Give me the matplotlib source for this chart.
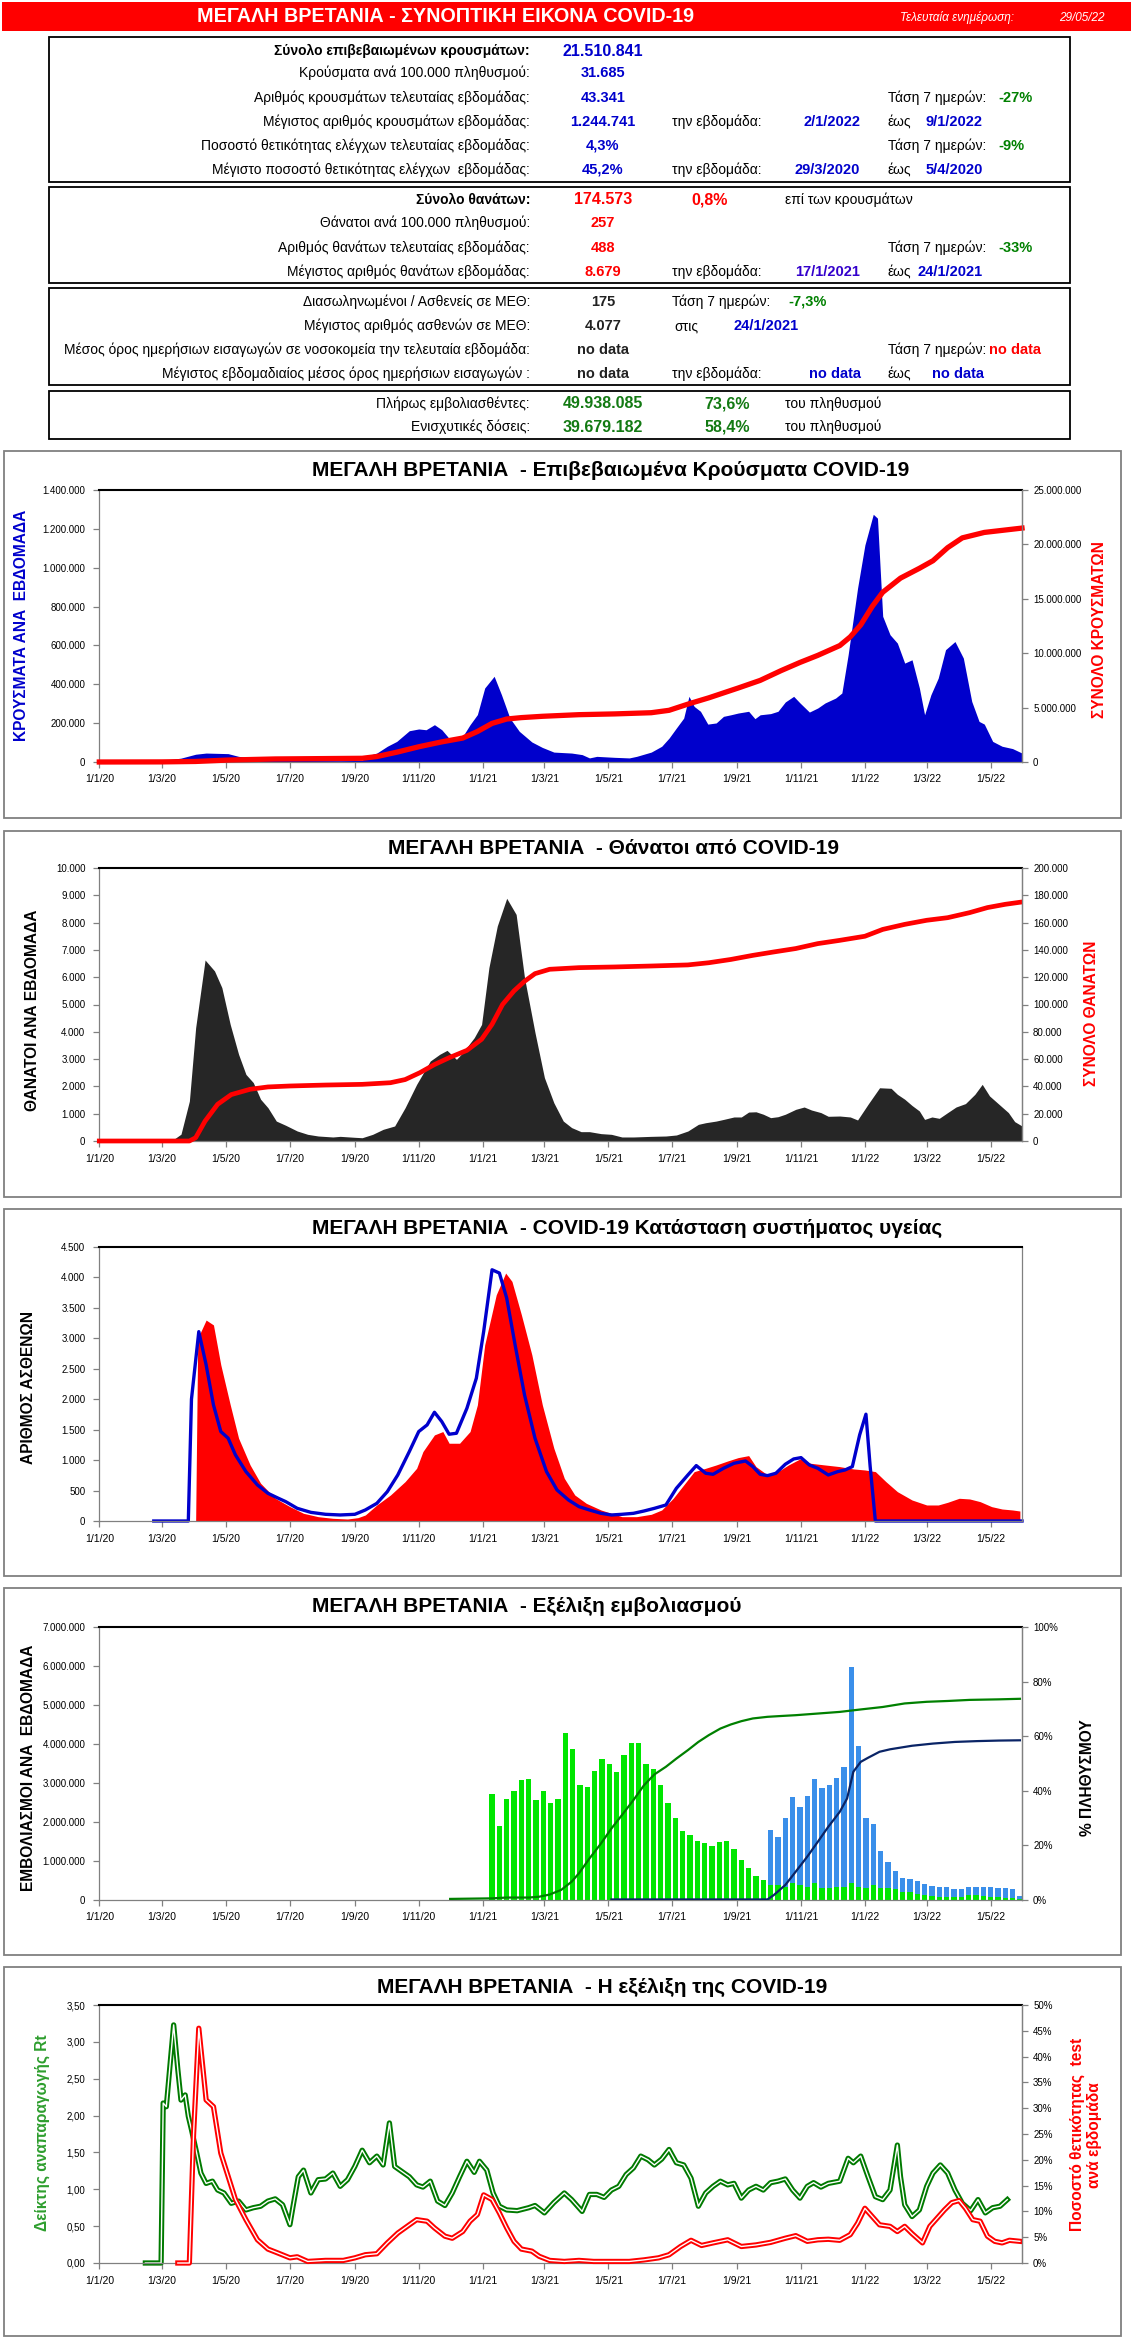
import numpy as np
import pandas as pd
import matplotlib
matplotlib.use('Agg')
import matplotlib.pyplot as plt
from matplotlib import font_manager
from matplotlib.patches import Rectangle
from matplotlib.lines import Line2D
import matplotlib.patheffects as pe
from matplotlib.ticker import FuncFormatter, MultipleLocator

_names = {f.name for f in font_manager.fontManager.ttflist}
REG = 'Liberation Sans' if 'Liberation Sans' in _names else 'DejaVu Sans'
HAS_NAR = 'Liberation Sans Narrow' in _names
NAR = 'Liberation Sans Narrow' if HAS_NAR else REG
plt.rcParams['font.family'] = [REG, 'DejaVu Sans']

# ---------------- data (days counted from 1/1/2020) ----------------
tick_dates = ['2020-01-01', '2020-03-01', '2020-05-01', '2020-07-01', '2020-09-01', '2020-11-01',
              '2021-01-01', '2021-03-01', '2021-05-01', '2021-07-01', '2021-09-01', '2021-11-01',
              '2022-01-01', '2022-03-01', '2022-05-01']
tick_labels = ['1/1/20', '1/3/20', '1/5/20', '1/7/20', '1/9/20', '1/11/20', '1/1/21', '1/3/21',
               '1/5/21', '1/7/21', '1/9/21', '1/11/21', '1/1/22', '1/3/22', '1/5/22']

case_days = [0, 59, 70, 78, 92, 102, 123, 133, 147, 168, 182, 230, 251, 254, 265, 275, 284, 296, 305, 312,
             320, 327, 335, 341, 347, 354, 361, 368, 377, 384, 392, 401, 413, 423, 434, 451, 461, 468, 475, 492,
             506, 513, 527, 537, 544, 551, 558, 563, 568, 574, 581, 589, 596, 603, 610, 620, 626, 631, 641, 648,
             655, 663, 669, 678, 686, 693, 703, 709, 715, 724, 731, 739, 743, 748, 755, 762, 769, 776, 783, 788,
             794, 801, 808, 817, 825, 833, 840, 845, 853, 862, 872, 881]
weekly_cases = [8000, 10000, 14000, 20000, 40000, 46000, 43000, 29000, 20000, 12000, 8000, 7000, 8000, 29000,
                46000, 81000, 106000, 161000, 170000, 166000, 192000, 166000, 115000, 115000, 132000, 192000,
                244000, 381000, 441000, 346000, 226000, 158000, 103000, 75000, 51000, 46000, 38000, 21000, 29000,
                24000, 21000, 29000, 51000, 81000, 123000, 175000, 226000, 338000, 286000, 261000, 195000, 201000,
                235000, 243000, 252000, 261000, 223000, 243000, 249000, 261000, 309000, 338000, 304000, 257000,
                278000, 304000, 329000, 355000, 552000, 895000, 1117000, 1275000, 1255000, 750000, 655000, 612000,
                509000, 526000, 381000, 243000, 346000, 432000, 578000, 620000, 535000, 312000, 209000, 195000,
                106000, 81000, 69000, 46000]
cum_case_days = [0, 60, 92, 123, 168, 182, 251, 265, 284, 305, 327, 347, 361, 375, 389, 403, 423, 458, 492, 527,
                 544, 563, 582, 610, 631, 651, 669, 686, 707, 717, 727, 738, 748, 765, 783, 796, 810, 824, 845, 881]
cum_cases = [0, 10000, 50000, 180000, 280000, 290000, 340000, 500000, 900000, 1400000, 1850000, 2200000, 2800000,
             3550000, 3950000, 4080000, 4200000, 4350000, 4420000, 4530000, 4750000, 5350000, 5900000, 6800000,
             7500000, 8400000, 9150000, 9800000, 10700000, 11500000, 12600000, 14300000, 15600000, 16900000,
             17800000, 18500000, 19700000, 20600000, 21100000, 21500000]

death_days = [0, 71, 78, 86, 92, 101, 110, 117, 125, 133, 140, 147, 154, 161, 169, 178, 189, 199, 209, 223,
              230, 244, 251, 261, 271, 282, 292, 303, 316, 325, 332, 341, 347, 358, 365, 372, 380, 389, 398, 406,
              416, 425, 434, 443, 451, 460, 468, 479, 489, 499, 510, 527, 541, 551, 562, 572, 579, 589, 596, 606,
              613, 620, 627, 634, 641, 648, 655, 665, 673, 680, 689, 696, 707, 717, 724, 734, 745, 756, 762, 769,
              776, 783, 788, 795, 802, 810, 818, 827, 836, 843, 850, 859, 868, 874, 881]
weekly_deaths = [60, 60, 250, 1460, 4150, 6630, 6230, 5620, 4270, 3175, 2440, 2140, 1530, 1220, 730, 575, 366,
                 244, 183, 147, 170, 135, 120, 244, 427, 550, 1220, 2075, 2930, 3175, 3320, 2990, 3235, 3785, 4270,
                 6350, 7875, 8890, 8300, 5980, 3970, 2320, 1400, 730, 490, 342, 342, 270, 244, 147, 147, 170, 183,
                 220, 366, 610, 670, 730, 790, 880, 880, 1060, 1070, 980, 855, 890, 980, 1160, 1245, 1135, 1040,
                 905, 915, 880, 770, 1345, 1950, 1930, 1710, 1530, 1300, 1100, 790, 880, 830, 1040, 1245, 1370,
                 1710, 2075, 1650, 1345, 1040, 710, 550]
cum_death_days = [0, 86, 92, 101, 113, 126, 144, 161, 182, 216, 251, 278, 292, 306, 320, 334, 351, 365, 375, 385,
                  396, 406, 416, 430, 458, 492, 527, 562, 582, 603, 624, 644, 665, 686, 707, 731, 748, 769, 790,
                  810, 831, 848, 865, 879]
cum_deaths = [0, 0, 2400, 14600, 26900, 34000, 37900, 39600, 40300, 41000, 41500, 42700, 45000, 50000, 56000,
              61000, 66400, 74500, 85500, 100000, 110000, 117000, 122600, 125800, 127000, 127500, 128200, 129000,
              130600, 133000, 136000, 138500, 141000, 144600, 147000, 150000, 155000, 158700, 161700, 163600,
              167300, 171000, 173400, 174900]

icu_days = [92, 94, 102, 109, 116, 125, 133, 144, 154, 168, 182, 195, 209, 223, 237, 247, 254, 265, 278, 292,
            303, 309, 320, 328, 334, 344, 354, 361, 368, 379, 388, 394, 403, 413, 423, 434, 444, 454, 465, 479,
            489, 499, 513, 527, 537, 548, 558, 568, 579, 589, 600, 610, 620, 627, 638, 648, 658, 669, 679, 693,
            707, 720, 731, 741, 751, 762, 776, 790, 801, 810, 821, 831, 841, 852, 862, 872, 879]
icu_patients = [0, 3000, 3300, 3220, 2565, 1910, 1360, 920, 620, 373, 236, 126, 71, 44, 33, 55, 99, 263, 427,
                647, 866, 1140, 1414, 1469, 1277, 1277, 1469, 1907, 2893, 3715, 4072, 3935, 3387, 2729, 1907, 1195,
                701, 427, 290, 181, 126, 71, 71, 110, 181, 373, 592, 811, 866, 920, 986, 1041, 1074, 893, 756, 811,
                920, 1019, 948, 920, 893, 855, 838, 811, 647, 482, 345, 263, 263, 307, 373, 362, 318, 236, 197,
                181, 164]
adm_days = [52, 85, 88, 95, 102, 109, 116, 123, 130, 140, 151, 161, 171, 178, 189, 202, 216, 230, 244, 254,
            265, 275, 285, 296, 305, 313, 320, 327, 334, 341, 351, 360, 367, 375, 382, 389, 397, 406, 416, 427,
            437, 448, 458, 468, 479, 489, 499, 510, 520, 530, 541, 551, 562, 570, 579, 586, 596, 606, 617, 624,
            631, 638, 646, 655, 663, 670, 678, 686, 696, 705, 712, 719, 726, 732, 736, 741, 881]
admissions = [0, 0, 2000, 3110, 2565, 1907, 1469, 1360, 1085, 811, 592, 455, 373, 318, 208, 142, 110, 99, 110,
              181, 290, 482, 756, 1140, 1469, 1578, 1786, 1633, 1425, 1441, 1852, 2345, 3112, 4126, 4072, 3660,
              2893, 2071, 1360, 811, 510, 345, 236, 181, 126, 99, 110, 126, 164, 208, 263, 537, 756, 910, 784,
              767, 866, 948, 986, 893, 767, 745, 784, 932, 1019, 1041, 920, 866, 756, 811, 838, 893, 1414, 1754,
              900, 0, 0]

first_dose_start = '2021-01-10'
weekly_first_doses = [2730000, 1900000, 2590000, 2790000, 3070000, 3100000, 2560000, 2790000, 2480000, 2590000,
                      4270000, 3880000, 2950000, 2890000, 3300000, 3610000, 3500000, 3270000, 3710000, 4020000,
                      4020000, 3500000, 3350000, 2960000, 2500000, 2090000, 1770000, 1660000, 1510000, 1470000,
                      1390000, 1480000, 1510000, 1310000, 1020000, 810000, 610000, 510000, 380000, 380000,
                      340000, 440000, 380000, 340000, 440000, 300000, 300000, 340000, 340000, 440000,
                      340000, 300000, 380000, 320000, 300000, 280000, 210000, 210000, 145000, 128000,
                      110000, 85000, 85000, 85000, 85000, 128000, 128000, 110000, 85000, 85000,
                      60000, 43000, 17000]
booster_start = '2021-10-03'
weekly_boosters = [1410000, 1240000, 1750000, 2200000, 2010000, 2320000, 2660000, 2580000, 2650000, 2790000,
                   3070000, 5540000, 3600000, 1790000, 1560000, 940000, 680000, 470000, 360000, 340000,
                   355000, 282000, 260000, 255000, 255000, 195000, 195000, 212000, 212000, 230000,
                   255000, 235000, 240000, 227000, 93000]
full_vax_days = [335, 375, 389, 410, 420, 430, 441, 451, 458, 468, 479, 489, 499, 510, 520, 530, 541, 551, 562,
                 572, 582, 593, 603, 613, 624, 638, 651, 665, 686, 707, 727, 748, 769, 790, 810, 831, 859, 879]
full_vax_pct = [0.4, 0.6, 0.9, 0.9, 1.2, 2.0, 3.7, 6.7, 9.8, 15.2, 20.7, 26.2, 31.1, 36.6, 42.0, 46.0, 48.8,
                51.8, 54.9, 57.9, 60.4, 62.8, 64.3, 65.5, 66.5, 67.1, 67.4, 67.7, 68.3, 68.9, 69.8, 70.7, 72.0,
                72.6, 72.9, 73.3, 73.5, 73.7]
booster_pct_days = [489, 638, 644, 655, 665, 676, 686, 696, 707, 714, 720, 727, 734, 745, 755, 776, 796, 817,
                    838, 859, 879]
booster_pct = [0.2, 0.2, 1.8, 5.5, 10.4, 15.9, 21.3, 26.8, 32.3, 37.2, 47.0, 50.6, 52.1, 54.3, 55.2, 56.5,
               57.3, 57.9, 58.2, 58.4, 58.5]

rt_days = [44, 59, 61, 64, 68, 71, 75, 78, 82, 85, 88, 93, 97, 102, 108, 113, 119, 126, 133, 140, 147, 154, 161,
           168, 175, 182, 185, 190, 195, 202, 209, 216, 223, 230, 237, 244, 251, 258, 265, 271, 277, 282, 289, 296,
           303, 309, 316, 323, 330, 337, 344, 351, 358, 363, 370, 376, 382, 389, 399, 410, 416, 425, 434, 444, 451,
           461, 468, 475, 482, 489, 496, 503, 510, 517, 524, 530, 537, 544, 551, 558, 565, 572, 579, 586, 593, 600,
           606, 613, 620, 627, 634, 641, 648, 655, 662, 669, 676, 682, 689, 696, 707, 715, 720, 727, 734, 741, 748,
           755, 762, 765, 769, 776, 783, 790, 796, 803, 810, 817, 824, 832, 839, 846, 853, 860, 867]
rt_values = [0, 0, 2.17, 2.12, 2.76, 3.23, 2.62, 2.21, 2.28, 1.99, 1.81, 1.49, 1.22, 1.08, 1.11, 0.99, 0.95, 0.81,
             0.84, 0.72, 0.75, 0.77, 0.84, 0.87, 0.79, 0.52, 0.77, 1.17, 1.26, 0.95, 1.13, 1.14, 1.22, 1.04, 1.13,
             1.31, 1.53, 1.36, 1.45, 1.33, 1.90, 1.31, 1.24, 1.17, 1.06, 1.03, 1.11, 0.84, 0.78, 0.95, 1.17, 1.38,
             1.23, 1.38, 1.26, 0.95, 0.77, 0.72, 0.71, 0.75, 0.78, 0.68, 0.82, 0.95, 0.86, 0.70, 0.93, 0.93, 0.89,
             0.99, 1.04, 1.20, 1.29, 1.45, 1.40, 1.33, 1.41, 1.54, 1.36, 1.33, 1.15, 0.77, 0.95, 1.04, 1.11, 1.06,
             1.08, 0.88, 0.99, 1.04, 0.99, 1.09, 1.11, 1.14, 0.99, 0.88, 1.04, 1.09, 1.03, 1.08, 1.11, 1.42, 1.36,
             1.45, 1.17, 0.90, 0.86, 0.99, 1.60, 1.17, 0.79, 0.63, 0.72, 1.04, 1.22, 1.33, 1.22, 0.99, 0.81, 0.71,
             0.86, 0.68, 0.75, 0.77, 0.86]
pos_days = [75, 86, 90, 95, 102, 109, 116, 123, 130, 140, 151, 161, 171, 182, 189, 199, 216, 233, 244, 254, 265,
            275, 285, 296, 303, 313, 320, 330, 337, 347, 354, 361, 367, 375, 382, 389, 396, 403, 413, 420, 430, 444,
            458, 472, 492, 506, 520, 534, 544, 555, 565, 575, 586, 600, 613, 627, 641, 655, 665, 676, 686, 696, 707,
            717, 724, 731, 738, 745, 755, 762, 769, 776, 786, 793, 800, 807, 814, 821, 827, 834, 841, 848, 855, 862,
            869, 879]
pos_values = [0, 0, 25, 45.5, 31.6, 30.3, 21.3, 16.8, 12.3, 8.4, 4.5, 2.7, 1.9, 1.0, 1.2, 0.3, 0.5, 0.5, 1.0, 1.6,
              1.8, 3.9, 5.8, 7.4, 8.4, 8.1, 6.8, 5.2, 4.8, 6.1, 8.1, 9.4, 13.2, 12.3, 9.7, 6.8, 4.2, 2.7, 2.3, 1.3,
              0.5, 0.3, 0.5, 0.3, 0.3, 0.3, 0.6, 1.0, 1.6, 3.2, 4.4, 3.4, 3.9, 4.5, 3.2, 3.5, 4.0, 4.8, 5.3, 4.2,
              4.5, 4.6, 4.4, 5.5, 7.7, 10.6, 9.0, 7.4, 7.1, 6.1, 7.1, 5.7, 3.9, 7.1, 8.7, 10.3, 11.7, 12.1, 10.6,
              8.4, 8.1, 5.2, 4.2, 3.9, 4.4, 4.2]

# header table texts
header_title = 'ΜΕΓΑΛΗ ΒΡΕΤΑΝΙΑ - ΣΥΝΟΠΤΙΚΗ ΕΙΚΟΝΑ COVID-19'
update_label, update_date = 'Τελευταία ενημέρωση:', '29/05/22'
cases_labels = ['Σύνολο επιβεβαιωμένων κρουσμάτων:', 'Κρούσματα ανά 100.000 πληθυσμού:',
                'Αριθμός κρουσμάτων τελευταίας εβδομάδας:', 'Μέγιστος αριθμός κρουσμάτων εβδομάδας:',
                'Ποσοστό θετικότητας ελέγχων τελευταίας εβδομάδας:', 'Μέγιστο ποσοστό θετικότητας ελέγχων  εβδομάδας:']
cases_values = ['21.510.841', '31.685', '43.341', '1.244.741', '4,3%', '45,2%']
deaths_labels = ['Σύνολο θανάτων:', 'Θάνατοι ανά 100.000 πληθυσμού:', 'Αριθμός θανάτων τελευταίας εβδομάδας:',
                 'Μέγιστος αριθμός θανάτων εβδομάδας:']
deaths_values = ['174.573', '257', '488', '8.679']
icu_labels = ['Διασωληνωμένοι / Ασθενείς σε ΜΕΘ:', 'Μέγιστος αριθμός ασθενών σε ΜΕΘ:',
              'Μέσος όρος ημερήσιων εισαγωγών σε νοσοκομεία την τελευταία εβδομάδα:',
              'Μέγιστος εβδομαδιαίος μέσος όρος ημερήσιων εισαγωγών :']
icu_values = ['175', '4.077', 'no data', 'no data']
vax_labels = ['Πλήρως εμβολιασθέντες:', 'Ενισχυτικές δόσεις:']
vax_values = ['49.938.085', '39.679.182']
vax_percent = ['73,6%', '58,4%']

# ---------------- figure ----------------
W, H = 1133, 2345
fig = plt.figure(figsize=(W / 100, H / 100), dpi=100)
fig.patch.set_facecolor('white')
ov = fig.add_axes([0, 0, 1, 1])
ov.set_xlim(0, W)
ov.set_ylim(H, 0)
ov.axis('off')

START = pd.Timestamp('2020-01-01')
XMIN, XMAX = START, START + pd.Timedelta(days=881)
TICKS = pd.to_datetime(tick_dates)


def to_dates(days):
    return START + pd.to_timedelta(np.asarray(days), unit='D')


def rect(l, t, r, b):
    return [l / W, 1 - b / H, (r - l) / W, (b - t) / H]


GRAY = '#808080'
YT = 8.3 if HAS_NAR else 7.0
XT = 9.0 if HAS_NAR else 7.5
BLUE = '#0000CC'
RED = '#FF0000'
DGREEN = '#008000'


def thousands(v, p):
    return f"{int(round(v)):,}".replace(',', '.')


def style(ax, fmt, ymax, step):
    ax.set_xlim(XMIN, XMAX)
    ax.set_ylim(0, ymax)
    ax.yaxis.set_major_locator(MultipleLocator(step))
    ax.yaxis.set_major_formatter(FuncFormatter(fmt))
    ax.set_xticks(TICKS)
    ax.set_xticklabels(tick_labels)
    for s in ['left', 'right', 'bottom']:
        ax.spines[s].set_color(GRAY)
        ax.spines[s].set_linewidth(0.9)
    ax.spines['top'].set_color('black')
    ax.spines['top'].set_linewidth(1.5)
    ax.tick_params(axis='both', colors=GRAY, length=4, width=0.9, labelcolor='black')
    ax.tick_params(axis='x', labelsize=XT, pad=5, labelfontfamily=NAR)
    ax.tick_params(axis='y', labelsize=YT, pad=6, labelfontfamily=NAR)


def style_right(ax2, fmt, ymax, step):
    ax2.set_xlim(XMIN, XMAX)
    ax2.set_ylim(0, ymax)
    ax2.yaxis.set_major_locator(MultipleLocator(step))
    ax2.yaxis.set_major_formatter(FuncFormatter(fmt))
    for s in ['left', 'top', 'bottom']:
        ax2.spines[s].set_visible(False)
    ax2.spines['right'].set_color(GRAY)
    ax2.spines['right'].set_linewidth(0.9)
    ax2.tick_params(axis='y', colors=GRAY, length=4, width=0.9, labelcolor='black', labelsize=YT, pad=4,
                    labelfontfamily=NAR)


def frame(t, b):
    ov.add_patch(Rectangle((4, t), 1117, b - t, fill=False, ec=GRAY, lw=1.3))


def title(x, y, s):
    ov.text(x, y, s, ha='left', va='center', fontsize=15, weight='bold', family=REG)


def vlabel(x, y, s, color, size=11.5, rot=90):
    ov.text(x, y, s, ha='center', va='center', rotation=rot, fontsize=size, weight='bold', color=color,
            family=REG)


# ---------------- header ----------------
ov.add_patch(Rectangle((2, 2), 1129, 29, color=RED, lw=0))
ov.text(446, 17, header_title, ha='center', va='center', color='white', weight='bold',
        fontsize=16.5 if HAS_NAR else 14.2, family=NAR)
ov.text(900, 18, update_label, ha='left', va='center', color='white', style='italic',
        fontsize=10 if HAS_NAR else 8.5, family=NAR)
ov.text(1059, 18, update_date, ha='left', va='center', color='white', style='italic',
        fontsize=10 if HAS_NAR else 8.5, family=NAR)

for (t, b) in [(37, 182), (187, 283), (288, 385), (391, 439)]:
    ov.add_patch(Rectangle((49, t), 1021, b - t, fill=False, ec='black', lw=1.3))

LFS = 10
VFS_BIG = 14 if HAS_NAR else 11.5
VFS = 12.5 if HAS_NAR else 10.5


def lab(y, s, bold=False):
    ov.text(530, y, s, ha='right', va='center', fontsize=LFS, weight='bold' if bold else 'normal', family=REG)


def val(x, y, s, color, size=VFS, ha='center'):
    ov.text(x, y, s, ha=ha, va='center', fontsize=size, weight='bold', color=color, family=NAR)


def txt(x, y, s, ha='left'):
    ov.text(x, y, s, ha=ha, va='center', fontsize=LFS, family=REG)


rows1 = [51, 73, 98, 122, 146, 170]
for i, (y, l, v) in enumerate(zip(rows1, cases_labels, cases_values)):
    lab(y, l, bold=(i == 0))
    val(603, y, v, BLUE, VFS_BIG if i == 0 else VFS)
txt(888, rows1[2], 'Τάση 7 ημερών:')
val(998, rows1[2], '-27%', DGREEN, ha='left')
txt(672, rows1[3], 'την εβδομάδα:')
val(860, rows1[3], '2/1/2022', BLUE, ha='right')
txt(888, rows1[3], 'έως')
val(983, rows1[3], '9/1/2022', BLUE, ha='right')
txt(888, rows1[4], 'Τάση 7 ημερών:')
val(998, rows1[4], '-9%', DGREEN, ha='left')
txt(672, rows1[5], 'την εβδομάδα:')
val(860, rows1[5], '29/3/2020', BLUE, ha='right')
txt(888, rows1[5], 'έως')
val(983, rows1[5], '5/4/2020', BLUE, ha='right')

rows2 = [200, 223, 248, 272]
for i, (y, l, v) in enumerate(zip(rows2, deaths_labels, deaths_values)):
    lab(y, l, bold=(i == 0))
    val(603, y, v, RED, VFS_BIG if i == 0 else VFS)
val(710, rows2[0], '0,8%', RED, VFS_BIG)
txt(785, rows2[0], 'επί των κρουσμάτων')
txt(888, rows2[2], 'Τάση 7 ημερών:')
val(998, rows2[2], '-33%', DGREEN, ha='left')
txt(672, rows2[3], 'την εβδομάδα:')
val(860, rows2[3], '17/1/2021', '#3300CC', ha='right')
txt(888, rows2[3], 'έως')
val(983, rows2[3], '24/1/2021', BLUE, ha='right')

rows3 = [302, 326, 350, 374]
for i, (y, l, v) in enumerate(zip(rows3, icu_labels, icu_values)):
    lab(y, l)
    val(603, y, v, '#222222')
txt(672, rows3[0], 'Τάση 7 ημερών:')
val(788, rows3[0], '-7,3%', DGREEN, ha='left')
txt(674, rows3[1], 'στις')
val(734, rows3[1], '24/1/2021', BLUE, ha='left')
txt(888, rows3[2], 'Τάση 7 ημερών:')
val(989, rows3[2], 'no data', RED, ha='left')
txt(672, rows3[3], 'την εβδομάδα:')
val(835, rows3[3], 'no data', BLUE)
txt(888, rows3[3], 'έως')
val(958, rows3[3], 'no data', BLUE)

rows4 = [404, 427]
for y, l, v, p in zip(rows4, vax_labels, vax_values, vax_percent):
    lab(y, l)
    val(603, y, v, '#137A13', VFS_BIG)
    val(727, y, p, '#137A13', VFS_BIG)
    txt(785, y, 'του πληθυσμού')

# ---------------- chart 1: cases ----------------
frame(451, 818)
title(312, 470, 'ΜΕΓΑΛΗ ΒΡΕΤΑΝΙΑ  - Επιβεβαιωμένα Κρούσματα COVID-19')
ax1 = fig.add_axes(rect(99.3, 490, 1022, 762))
ax1.fill_between(to_dates(case_days), weekly_cases, color=BLUE, lw=0)
style(ax1, thousands, 1400000, 200000)
ax1b = ax1.twinx()
ax1b.plot(to_dates(cum_case_days), cum_cases, color=RED, lw=3.8, clip_on=False, solid_joinstyle='round')
style_right(ax1b, thousands, 25000000, 5000000)
vlabel(22, 625, 'ΚΡΟΥΣΜΑΤΑ ΑΝΑ  ΕΒΔΟΜΑΔΑ', BLUE, 11.2)
vlabel(1099, 630, 'ΣΥΝΟΛΟ ΚΡΟΥΣΜΑΤΩΝ', RED, 11.2)

# ---------------- chart 2: deaths ----------------
frame(831, 1197)
title(388, 849, 'ΜΕΓΑΛΗ ΒΡΕΤΑΝΙΑ  - Θάνατοι από COVID-19')
ax2 = fig.add_axes(rect(99.3, 868, 1022, 1141))
ax2.fill_between(to_dates(death_days), weekly_deaths, color='#262626', lw=0)
style(ax2, thousands, 10000, 1000)
ax2b = ax2.twinx()
ax2b.plot(to_dates(cum_death_days), cum_deaths, color=RED, lw=3.4, clip_on=False, solid_joinstyle='round')
style_right(ax2b, thousands, 200000, 20000)
vlabel(33, 1010, 'ΘΑΝΑΤΟΙ ΑΝΑ ΕΒΔΟΜΑΔΑ', 'black', 11.2)
vlabel(1092, 1013, 'ΣΥΝΟΛΟ ΘΑΝΑΤΩΝ', RED, 11.2)

# ---------------- chart 3: ICU ----------------
frame(1209, 1576)
title(312, 1228, 'ΜΕΓΑΛΗ ΒΡΕΤΑΝΙΑ  - COVID-19 Κατάσταση συστήματος υγείας')
ax3 = fig.add_axes(rect(99.3, 1247, 1022, 1521))
ax3.fill_between(to_dates(icu_days), icu_patients, color=RED, lw=0)
ax3.plot(to_dates(adm_days), admissions, color=BLUE, lw=2.4, clip_on=False)
style(ax3, thousands, 4500, 500)
ax3.tick_params(axis='y', right=False)
vlabel(29, 1388, 'ΑΡΙΘΜΟΣ ΑΣΘΕΝΩΝ', 'black', 11.2)
LEGFS = 10 if HAS_NAR else 8.5
ov.add_patch(Rectangle((141, 1260), 26, 10, color=RED, lw=0))
ov.text(170, 1265, 'Νοσηλευόμενοι  σε Μ.Ε.Θ.', ha='left', va='center', fontsize=LEGFS, family=NAR)
ov.add_line(Line2D([141, 167], [1295, 1295], color=BLUE, lw=3))
ov.text(170, 1295, 'Εβδομαδιαίος μέσος όρος ημερήσιων  εισαγωγών', ha='left', va='center', fontsize=LEGFS,
        family=NAR)

# ---------------- chart 4: vaccination ----------------
frame(1588, 1955)
title(312, 1607, 'ΜΕΓΑΛΗ ΒΡΕΤΑΝΙΑ  - Εξέλιξη εμβολιασμού')
ax4 = fig.add_axes(rect(99.3, 1627, 1022, 1900))
fd_dates = pd.date_range(first_dose_start, periods=len(weekly_first_doses), freq='7D')
bd_dates = pd.date_range(booster_start, periods=len(weekly_boosters), freq='7D')
fd_series = pd.Series(weekly_first_doses, index=fd_dates)
ax4.bar(fd_dates, weekly_first_doses, width=5, color='#00E600', lw=0)
ax4.bar(bd_dates, weekly_boosters, width=5, bottom=fd_series.loc[bd_dates].values, color='#3A8FEA', lw=0)
style(ax4, thousands, 7000000, 1000000)
ax4b = ax4.twinx()
ax4b.plot(to_dates(full_vax_days), full_vax_pct, color=DGREEN, lw=1.6)
ax4b.plot(to_dates(booster_pct_days), booster_pct, color='#0A2466', lw=1.6)
style_right(ax4b, lambda v, p: f"{int(round(v))}%", 100, 20)
vlabel(29, 1768, 'ΕΜΒΟΛΙΑΣΜΟΙ ΑΝΑ  ΕΒΔΟΜΑΔΑ', 'black', 11.2)
vlabel(1088, 1778, '% ΠΛΗΘΥΣΜΟΥ', 'black', 11.2)
ov.add_patch(Rectangle((128, 1640), 10, 11, color='#00E600', lw=0))
ov.text(140, 1645, 'Αρχικές (1η, 2η) δόσεις', ha='left', va='center', fontsize=LEGFS, family=NAR)
ov.add_patch(Rectangle((128, 1668), 10, 11, color='#3A8FEA', lw=0))
ov.text(140, 1673, 'Ενισχυτικές δόσεις', ha='left', va='center', fontsize=LEGFS, family=NAR)

# ---------------- chart 5: Rt and positivity ----------------
frame(1967, 2336)
title(377, 1987, 'ΜΕΓΑΛΗ ΒΡΕΤΑΝΙΑ  - Η εξέλιξη της COVID-19')
ax5 = fig.add_axes(rect(99.3, 2005, 1022, 2263))
ax5.plot(to_dates(rt_days), rt_values, color='white', lw=1.0, clip_on=False,
         path_effects=[pe.Stroke(linewidth=3.8, foreground='#007A00'), pe.Normal()])
style(ax5, lambda v, p: f"{v:.2f}".replace('.', ','), 3.5, 0.5)
ax5b = ax5.twinx()
ax5b.plot(to_dates(pos_days), pos_values, color='white', lw=1.0, clip_on=False,
          path_effects=[pe.Stroke(linewidth=3.8, foreground=RED), pe.Normal()])
style_right(ax5b, lambda v, p: f"{int(round(v))}%", 50, 5)
vlabel(42, 2133, 'Δείκτης αναπαραγωγής Rt', '#2E9E2E', 11.2)
vlabel(1077, 2134, 'Ποσοστό θετικότητας  test', RED, 11.2)
vlabel(1094, 2135, 'ανά εβδομάδα', RED, 11.2)

fig.savefig('out.png', dpi=100, facecolor='white')
